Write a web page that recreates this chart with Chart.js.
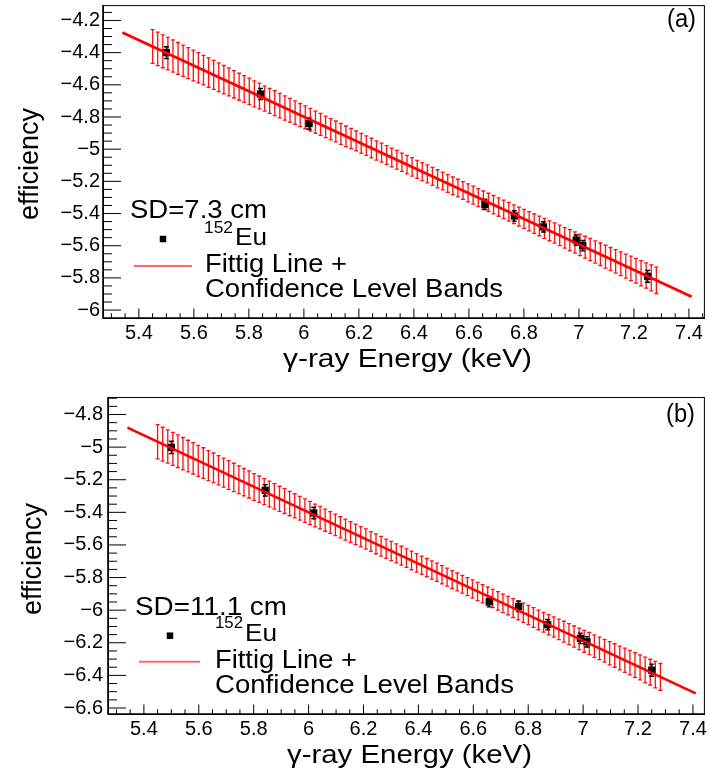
<!DOCTYPE html>
<html><head><meta charset="utf-8">
<script src="https://cdn.jsdelivr.net/npm/chart.js@4.4.1/dist/chart.umd.min.js"></script>
<style>
html,body{margin:0;padding:0;background:#fff;}
canvas{display:block;}
</style></head>
<body>
<canvas id="cA" width="710" height="388"></canvas>
<canvas id="cB" width="710" height="388"></canvas>
<script>
// ---------- data ----------
// ln(E) of the 152Eu gamma lines
const energyA = [5.500, 5.842, 6.019, 6.658, 6.765, 6.871, 6.990, 7.014, 7.250];
const effA    = [-4.400, -4.657, -4.841, -5.343, -5.415, -5.483, -5.565, -5.600, -5.790];
const effErrA = [0.037, 0.035, 0.035, 0.032, 0.032, 0.032, 0.032, 0.032, 0.037];

const energyB = [5.500, 5.842, 6.019, 6.658, 6.765, 6.871, 6.990, 7.014, 7.250];
const effB    = [-5.002, -5.265, -5.404, -5.948, -5.977, -6.089, -6.173, -6.194, -6.368];
const effErrB = [0.038, 0.035, 0.035, 0.032, 0.032, 0.032, 0.032, 0.032, 0.037];

// fitted line end points
const fitXA = [5.34, 7.41];
const fitYA = [-4.275, -5.917];
const fitXB = [5.34, 7.41];
const fitYB = [-4.8805, -6.5104];

// confidence band (100 vertical bars)
const bandX = [
5.4500,5.4685,5.4870,5.5055,5.5240,5.5425,5.5610,5.5795,5.5980,5.6165,
5.6350,5.6535,5.6720,5.6905,5.7090,5.7275,5.7460,5.7645,5.7830,5.8015,
5.8200,5.8385,5.8570,5.8755,5.8940,5.9125,5.9310,5.9495,5.9680,5.9865,
6.0050,6.0235,6.0420,6.0605,6.0790,6.0975,6.1160,6.1345,6.1530,6.1715,
6.1900,6.2085,6.2270,6.2455,6.2640,6.2825,6.3010,6.3195,6.3380,6.3565,
6.3750,6.3935,6.4120,6.4305,6.4490,6.4675,6.4860,6.5045,6.5230,6.5415,
6.5600,6.5785,6.5970,6.6155,6.6340,6.6525,6.6710,6.6895,6.7080,6.7265,
6.7450,6.7635,6.7820,6.8005,6.8190,6.8375,6.8560,6.8745,6.8930,6.9115,
6.9300,6.9485,6.9670,6.9855,7.0040,7.0225,7.0410,7.0595,7.0780,7.0965,
7.1150,7.1335,7.1520,7.1705,7.1890,7.2075,7.2260,7.2445,7.2630,7.2815];
const bandHalfWidth = [
0.105,0.104,0.102,0.101,0.100,0.099,0.097,0.096,0.095,0.094,
0.092,0.091,0.090,0.089,0.088,0.087,0.085,0.084,0.083,0.082,
0.081,0.080,0.079,0.078,0.077,0.076,0.075,0.074,0.073,0.072,
0.071,0.070,0.069,0.068,0.067,0.066,0.065,0.065,0.064,0.063,
0.062,0.062,0.061,0.061,0.060,0.059,0.059,0.058,0.058,0.057,
0.057,0.057,0.056,0.056,0.056,0.056,0.056,0.055,0.055,0.055,
0.055,0.055,0.056,0.056,0.056,0.056,0.056,0.057,0.057,0.057,
0.058,0.058,0.059,0.059,0.060,0.060,0.061,0.062,0.062,0.063,
0.064,0.064,0.065,0.066,0.067,0.068,0.069,0.069,0.070,0.071,
0.072,0.073,0.074,0.075,0.076,0.077,0.078,0.079,0.081,0.082];
const bandYA = [
-4.362,-4.377,-4.392,-4.406,-4.421,-4.436,-4.450,-4.465,-4.480,-4.494,
-4.509,-4.524,-4.538,-4.553,-4.568,-4.582,-4.597,-4.612,-4.626,-4.641,
-4.656,-4.670,-4.685,-4.700,-4.714,-4.729,-4.744,-4.758,-4.773,-4.788,
-4.802,-4.817,-4.832,-4.846,-4.861,-4.876,-4.890,-4.905,-4.920,-4.934,
-4.949,-4.964,-4.978,-4.993,-5.008,-5.022,-5.037,-5.052,-5.066,-5.081,
-5.096,-5.110,-5.125,-5.140,-5.154,-5.169,-5.184,-5.198,-5.213,-5.228,
-5.242,-5.257,-5.272,-5.286,-5.301,-5.316,-5.330,-5.345,-5.360,-5.374,
-5.389,-5.404,-5.419,-5.433,-5.448,-5.463,-5.477,-5.492,-5.507,-5.521,
-5.536,-5.551,-5.565,-5.580,-5.595,-5.609,-5.624,-5.639,-5.653,-5.668,
-5.683,-5.697,-5.712,-5.727,-5.741,-5.756,-5.771,-5.785,-5.800,-5.815];
const bandYB = [
-4.967,-4.982,-4.996,-5.011,-5.025,-5.040,-5.055,-5.069,-5.084,-5.098,
-5.113,-5.127,-5.142,-5.156,-5.171,-5.186,-5.200,-5.215,-5.229,-5.244,
-5.258,-5.273,-5.288,-5.302,-5.317,-5.331,-5.346,-5.360,-5.375,-5.390,
-5.404,-5.419,-5.433,-5.448,-5.462,-5.477,-5.492,-5.506,-5.521,-5.535,
-5.550,-5.564,-5.579,-5.593,-5.608,-5.623,-5.637,-5.652,-5.666,-5.681,
-5.695,-5.710,-5.725,-5.739,-5.754,-5.768,-5.783,-5.797,-5.812,-5.827,
-5.841,-5.856,-5.870,-5.885,-5.899,-5.914,-5.929,-5.943,-5.958,-5.972,
-5.987,-6.001,-6.016,-6.030,-6.045,-6.060,-6.074,-6.089,-6.103,-6.118,
-6.132,-6.147,-6.162,-6.176,-6.191,-6.205,-6.220,-6.234,-6.249,-6.264,
-6.278,-6.293,-6.307,-6.322,-6.336,-6.351,-6.366,-6.380,-6.395,-6.409];

// tick labels
const xTicks  = [5.4, 5.6, 5.8, 6.0, 6.2, 6.4, 6.6, 6.8, 7.0, 7.2, 7.4];
const yTicksA = [-6.0, -5.8, -5.6, -5.4, -5.2, -5.0, -4.8, -4.6, -4.4, -4.2];
const yTicksB = [-6.6, -6.4, -6.2, -6.0, -5.8, -5.6, -5.4, -5.2, -5.0, -4.8];

// text
const xTitle = 'γ-ray Energy (keV)';
const yTitle = 'efficiency';
const legendSource = 'Eu';
const legendMass = '152';
const legendFit1 = 'Fittig Line +';
const legendFit2 = 'Confidence Level Bands';

// ---------- drawing helpers ----------
const FONT = "'Liberation Sans', Arial, Helvetica, sans-serif";

function fmtTick(v) {
  const r = Math.round(v * 100) / 100;
  return (r < 0 ? '\u2212' : '') + String(Math.abs(r));
}

function drawText(ctx, o) {
  ctx.save();
  ctx.font = o.size + 'px ' + FONT;
  ctx.fillStyle = '#000';
  const w = ctx.measureText(o.t).width;
  const s = o.w ? o.w / w : 1;
  ctx.translate(o.x, o.y);
  if (o.rot) {
    ctx.rotate(-Math.PI / 2);
    ctx.textAlign = 'center';
    ctx.textBaseline = 'middle';
  } else {
    ctx.textAlign = o.align || 'left';
    ctx.textBaseline = 'alphabetic';
  }
  ctx.scale(s, 1);
  ctx.fillText(o.t, 0, 0);
  ctx.restore();
}

const errorBars = {
  id: 'errorBars',
  beforeDatasetDraw(chart, args) {
    const ds = chart.data.datasets[args.index];
    if (!ds.errors) return;
    const ys = chart.scales.y;
    const ctx = chart.ctx;
    ctx.save();
    ctx.strokeStyle = ds.errColor;
    ctx.lineWidth = ds.errWidth;
    const cap = ds.errCap;
    args.meta.data.forEach((pt, i) => {
      const raw = ds.data[i];
      const e = ds.errors[i];
      const x = pt.x;
      const y1 = ys.getPixelForValue(raw.y + e);
      const y2 = ys.getPixelForValue(raw.y - e);
      ctx.beginPath();
      ctx.moveTo(x, y1); ctx.lineTo(x, y2);
      ctx.moveTo(x - cap, y1); ctx.lineTo(x + cap, y1);
      ctx.moveTo(x - cap, y2); ctx.lineTo(x + cap, y2);
      ctx.stroke();
    });
    ctx.restore();
  }
};

const rootAxes = {
  id: 'rootAxes',
  beforeDatasetsDraw(chart) {
    const { ctx, chartArea: a, scales: { x, y } } = chart;
    ctx.save();
    ctx.strokeStyle = '#000';
    ctx.lineWidth = 1;
    ctx.strokeRect(a.left + 0.5, a.top + 0.5, a.right - a.left - 1, a.bottom - a.top);
    ctx.beginPath();
    const step = 0.05;
    for (let k = Math.ceil(x.min / step - 1e-6); k * step <= x.max + 1e-9; k++) {
      const px = x.getPixelForValue(k * step);
      const len = (k % 4 === 0) ? 9.5 : 4.75;
      ctx.moveTo(px, a.bottom); ctx.lineTo(px, a.bottom - len);
    }
    for (let k = Math.ceil(y.min / step - 1e-6); k * step <= y.max + 1e-9; k++) {
      const py = y.getPixelForValue(k * step);
      const len = (Math.abs(k) % 4 === 0) ? 18 : 9;
      ctx.moveTo(a.left, py); ctx.lineTo(a.left + len, py);
    }
    ctx.stroke();
    ctx.lineWidth = 1.6;
    ctx.beginPath();
    ctx.moveTo(a.left, a.top); ctx.lineTo(a.left, a.bottom); ctx.lineTo(a.right, a.bottom);
    ctx.stroke();
    ctx.restore();
  }
};

const rootText = {
  id: 'rootText',
  afterDraw(chart, args, opts) {
    const ctx = chart.ctx;
    opts.texts.forEach(o => drawText(ctx, o));
    const m = opts.marker;
    ctx.save();
    ctx.fillStyle = '#000';
    ctx.fillRect(m.x - m.s / 2, m.y - m.s / 2, m.s, m.s);
    const l = opts.line;
    ctx.strokeStyle = 'rgba(255,0,0,0.6)';
    ctx.lineWidth = 2;
    ctx.beginPath(); ctx.moveTo(l.x1, l.y); ctx.lineTo(l.x2, l.y); ctx.stroke();
    ctx.restore();
  }
};

function makePanel(id, p) {
  return new Chart(document.getElementById(id), {
    type: 'scatter',
    data: {
      datasets: [
        { label: 'fit', data: p.fitX.map((x, i) => ({ x, y: p.fitY[i] })), showLine: true,
          borderColor: '#ff0000', borderWidth: 2.7, pointRadius: 0, fill: false },
        { label: legendSource, data: p.x.map((x, i) => ({ x, y: p.y[i] })), pointStyle: 'rect',
          pointRadius: 5.1, backgroundColor: '#000', borderColor: '#000', borderWidth: 0,
          errors: p.err, errColor: '#000', errWidth: 1.4, errCap: 2.5 },
        { label: 'band', data: bandX.map((x, i) => ({ x, y: p.bandY[i] })), pointRadius: 0,
          errors: bandHalfWidth, errColor: '#ff1010', errWidth: 1.3, errCap: 2 }
      ]
    },
    options: {
      responsive: false, animation: false, events: [],
      layout: { padding: { top: p.area.top, right: 710 - p.area.right, left: 0, bottom: 0 } },
      scales: {
        x: {
          type: 'linear', position: 'bottom', min: p.xMin, max: p.xMax,
          afterFit: s => { s.height = 388 - p.area.bottom; s.paddingLeft = 0; s.paddingRight = 0; },
          afterBuildTicks: s => { s.ticks = xTicks.map(v => ({ value: v })); },
          grid: { display: false, drawTicks: false }, border: { display: false },
          ticks: { callback: v => fmtTick(v), font: { family: FONT, size: 20 }, color: '#000',
                   padding: 3, maxRotation: 0, minRotation: 0, autoSkip: false }
        },
        y: {
          type: 'linear', position: 'left', min: p.yMin, max: p.yMax,
          afterFit: s => { s.width = p.area.left; s.paddingTop = 0; s.paddingBottom = 0; },
          afterBuildTicks: s => { s.ticks = p.yTicks.map(v => ({ value: v })); },
          grid: { display: false, drawTicks: false }, border: { display: false },
          ticks: { callback: v => fmtTick(v), font: { family: FONT, size: 20 }, color: '#000',
                   padding: p.yPad, autoSkip: false }
        }
      },
      plugins: {
        legend: { display: false }, tooltip: { enabled: false },
        rootText: { texts: p.texts, marker: p.marker, line: p.line }
      }
    },
    plugins: [errorBars, rootAxes, rootText]
  });
}

makePanel('cA', {
  x: energyA, y: effA, err: effErrA, fitX: fitXA, fitY: fitYA, bandY: bandYA, yTicks: yTicksA,
  xMin: 5.2696, xMax: 7.458, yMin: -6.0492, yMax: -4.1046,
  area: { left: 103, top: 2, right: 707, bottom: 318 }, yPad: 3,
  texts: [
    { t: 'SD=7.3 cm', x: 130, y: 218, size: 25, w: 137 },
    { t: legendMass, x: 204, y: 233, size: 16, w: 29 },
    { t: legendSource, x: 235, y: 245, size: 24, w: 32 },
    { t: legendFit1, x: 205, y: 272, size: 25, w: 142 },
    { t: legendFit2, x: 205, y: 297, size: 25, w: 298 },
    { t: '(a)', x: 667, y: 27, size: 25, w: 29 },
    { t: xTitle, x: 532, y: 367, size: 26, w: 249, align: 'right' },
    { t: yTitle, x: 31, y: 164, size: 27, w: 112, rot: true }
  ],
  marker: { x: 163, y: 239, s: 6.5 },
  line: { x1: 134, x2: 192, y: 266 }
});

makePanel('cB', {
  x: energyB, y: effB, err: effErrB, fitX: fitXB, fitY: fitYB, bandY: bandYB, yTicks: yTicksB,
  xMin: 5.2693, xMax: 7.4436, yMin: -6.6368, yMax: -4.6926,
  area: { left: 108, top: 9, right: 707, bottom: 326 }, yPad: 5,
  texts: [
    { t: 'SD=11.1 cm', x: 135, y: 227, size: 25, w: 152 },
    { t: legendMass, x: 215, y: 240, size: 16, w: 28 },
    { t: legendSource, x: 245, y: 253, size: 24, w: 32 },
    { t: legendFit1, x: 215, y: 280, size: 25, w: 142 },
    { t: legendFit2, x: 215, y: 305, size: 25, w: 299 },
    { t: '(b)', x: 666, y: 34, size: 25, w: 29 },
    { t: xTitle, x: 532, y: 375, size: 26, w: 245, align: 'right' },
    { t: yTitle, x: 34, y: 171, size: 27, w: 112, rot: true }
  ],
  marker: { x: 170, y: 247.7, s: 6.5 },
  line: { x1: 139, x2: 200, y: 273.7 }
});
</script>
</body></html>
